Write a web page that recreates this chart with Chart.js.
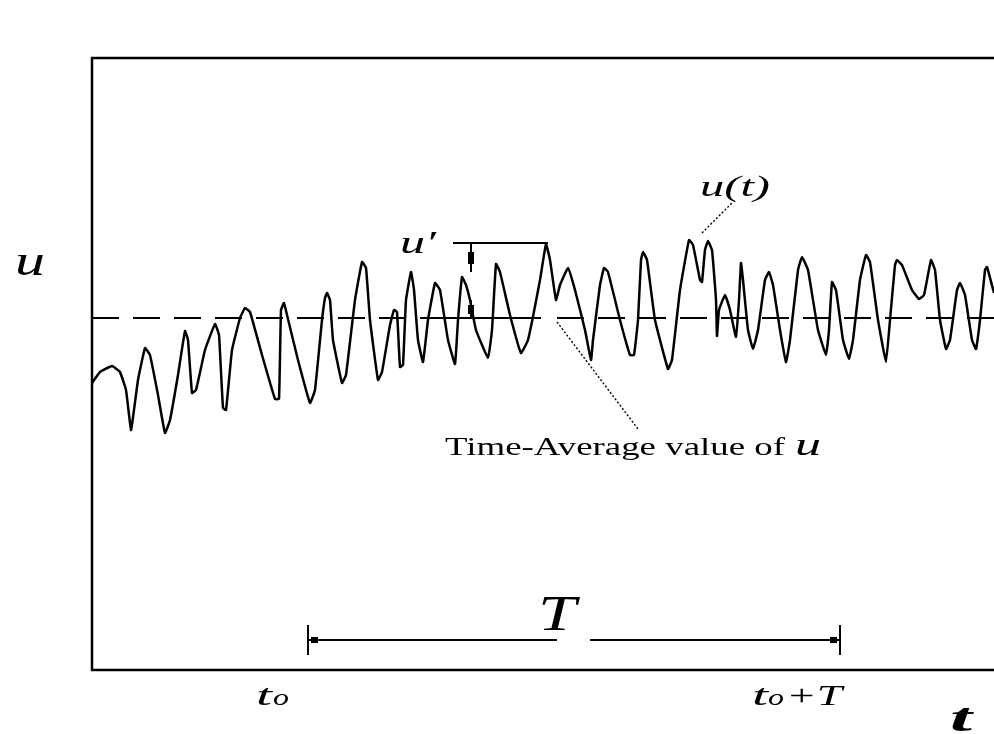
<!DOCTYPE html>
<html>
<head>
<meta charset="utf-8">
<script src="https://cdn.jsdelivr.net/npm/chart.js@4/dist/chart.umd.min.js"></script>
<style>
  html, body { margin: 0; padding: 0; background: #fff; overflow: hidden; }
  #wrap { width: 994px; height: 734px; }
</style>
</head>
<body>
<div id="wrap"><canvas id="chartContainer" width="994" height="734"></canvas></div>
<script>
// time axis (arbitrary units) and velocity deviation from the time average
var t = [0, 8, 20, 28, 34, 39, 42, 46, 53, 58,
    66, 73, 78, 86, 93, 96, 100, 104, 113, 123,
    127, 131, 134, 140, 148, 153, 158, 170, 183, 187,
    189, 192, 195, 206, 218, 223, 230, 233, 235, 238,
    241, 250, 254, 263, 270, 274, 278, 286, 290, 298,
    302, 305, 308, 311, 314, 319, 322, 326, 331, 336,
    343, 348, 356, 363, 366, 370, 374, 378, 384, 396,
    400, 404, 408, 418, 429, 436, 448, 454, 458, 464,
    468, 476, 483, 493, 499, 501, 508, 512, 516, 528,
    538, 542, 546, 549, 551, 555, 563, 576, 580, 588,
    597, 601, 608, 610, 613, 616, 620, 624, 625, 627,
    633, 638, 644, 647, 649, 651, 656, 661, 666, 673,
    677, 681, 688, 694, 698, 706, 710, 716, 726, 734,
    737, 740, 744, 751, 757, 761, 768, 774, 778, 786,
    794, 798, 803, 805, 810, 820, 827, 832, 839, 843,
    848, 854, 858, 865, 868, 873, 880, 884, 888, 893,
    895, 902];
var u = [-65, -54, -48, -54, -72, -112, -92, -62, -30, -37,
    -77, -115, -102, -57, -13, -22, -75, -72, -32, -6,
    -17, -90, -92, -32, 0, 10, 6, -37, -81, -81,
    8, 15, 3, -42, -85, -72, -2, 20, 25, 18,
    -22, -65, -57, 18, 56, 50, -2, -62, -54, -7,
    8, 6, -49, -47, 18, 46, 28, -22, -44, -2,
    35, 28, -22, -46, -2, 41, 33, 18, -12, -40,
    -12, 54, 46, 3, -35, -22, 38, 74, 58, 18,
    33, 50, 28, -12, -42, -22, 33, 50, 46, -2,
    -37, -37, -2, 58, 66, 58, -2, -51, -42, 28,
    78, 73, 38, 36, 68, 77, 68, 18, -18, 8,
    23, 8, -19, 18, 55, 38, -12, -31, -12, 38,
    46, 33, -12, -44, -22, 48, 61, 48, -12, -37,
    -12, 36, 28, -22, -41, -22, 38, 63, 56, -2,
    -44, -2, 53, 58, 53, 28, 19, 23, 58, 48,
    -2, -31, -22, 28, 35, 23, -22, -31, -2, 48,
    51, 25];

// time-average line, drawn dashed / solid / dashed as in the sketch
var meanDashA = [0, 336];
var meanSolid = [336, 449];
var meanDashB = [465, 902];

var t0 = 216, t0T = 748;     // averaging window
var uPeak = 75, tPeakFrom = 361, tPeakTo = 456, tPrime = 379;

var serif = '"Liberation Serif", "DejaVu Serif", serif';

function pts(xs, ys) {
    var out = [];
    for (var i = 0; i < xs.length; i++) out.push({ x: xs[i], y: ys[i] });
    return out;
}
function seg(r) { return [{ x: r[0], y: 0 }, { x: r[1], y: 0 }]; }

function fitText(ctx, text, x, y, w, font) {
    ctx.font = font;
    var m = ctx.measureText(text).width;
    ctx.save();
    ctx.translate(x, y);
    ctx.scale(w / m, 1);
    ctx.fillText(text, 0, 0);
    ctx.restore();
}

var sketch = {
    id: 'sketch',
    afterDraw: function (chart) {
        var ctx = chart.ctx, a = chart.chartArea;
        var xs = chart.scales.x, ys = chart.scales.y;
        var X = function (v) { return xs.getPixelForValue(v); };
        var Y = function (v) { return ys.getPixelForValue(v); };
        ctx.save();
        ctx.strokeStyle = '#000';
        ctx.fillStyle = '#000';
        ctx.textBaseline = 'alphabetic';

        // frame (right side runs off the page)
        ctx.lineWidth = 2.5;
        ctx.beginPath();
        ctx.moveTo(a.right + 2, a.top);
        ctx.lineTo(a.left, a.top);
        ctx.lineTo(a.left, a.bottom);
        ctx.lineTo(a.right + 2, a.bottom);
        ctx.stroke();

        // T window arrow
        var yT = Y(-322);
        ctx.lineWidth = 2;
        ctx.beginPath();
        ctx.moveTo(X(t0), yT); ctx.lineTo(X(465), yT);
        ctx.moveTo(X(498), yT); ctx.lineTo(X(t0T), yT);
        ctx.moveTo(X(t0), yT - 15); ctx.lineTo(X(t0), yT + 15);
        ctx.moveTo(X(t0T), yT - 15); ctx.lineTo(X(t0T), yT + 15);
        ctx.stroke();
        ctx.fillRect(X(t0) + 3, yT - 3, 7, 6);
        ctx.fillRect(X(t0T) - 10, yT - 3, 7, 6);

        // u' bracket
        var yP = Y(uPeak);
        ctx.lineWidth = 2;
        ctx.beginPath();
        ctx.moveTo(X(tPeakFrom), yP); ctx.lineTo(X(tPeakTo), yP);
        ctx.moveTo(X(tPrime), yP); ctx.lineTo(X(tPrime), yP + 29);
        ctx.moveTo(X(tPrime), Y(0) - 18); ctx.lineTo(X(tPrime), Y(0));
        ctx.stroke();
        ctx.fillRect(X(tPrime) - 3, yP + 9, 6, 12);
        ctx.fillRect(X(tPrime) - 3, Y(0) - 13, 6, 9);

        // leader lines
        ctx.lineWidth = 1.4;
        ctx.setLineDash([2, 2]);
        ctx.beginPath();
        ctx.moveTo(X(465), Y(-4)); ctx.lineTo(X(546), Y(-111));
        ctx.moveTo(X(610), Y(85)); ctx.lineTo(X(640), Y(115));
        ctx.stroke();
        ctx.setLineDash([]);

        // labels
        fitText(ctx, 'u', 15, 275, 30, 'italic 44px ' + serif);
        fitText(ctx, 'u\u2032', X(308), Y(65), 36, 'italic 32px ' + serif);
        fitText(ctx, 'u(t)', X(608), Y(122), 70, 'italic 30px ' + serif);
        fitText(ctx, 'Time-Average value of', X(353), Y(-137), 340, '26px ' + serif);
        fitText(ctx, 'u', X(703), Y(-137), 26, 'italic 32px ' + serif);
        fitText(ctx, 'T', X(446), yT - 10, 38, 'italic 50px ' + serif);
        fitText(ctx, 't', 256, 705, 16, 'italic 30px ' + serif);
        fitText(ctx, 'o', 273, 705, 16, 'italic 24px ' + serif);
        fitText(ctx, 't', 752, 705, 16, 'italic 30px ' + serif);
        fitText(ctx, 'o', 768, 705, 16, 'italic 24px ' + serif);
        fitText(ctx, '+T', 786, 705, 56, 'italic 30px ' + serif);
        fitText(ctx, 't', 950, 731, 22, 'italic bold 40px ' + serif);
        ctx.restore();
    }
};

var chart = new Chart(document.getElementById('chartContainer'), {
    type: 'line',
    data: {
        datasets: [{
            label: 'u(t)',
            data: pts(t, u),
            borderColor: '#000',
            borderWidth: 2.5,
            pointRadius: 0,
            tension: 0.1
        }, {
            label: 'mean',
            data: seg(meanDashA),
            borderColor: '#000',
            borderWidth: 2,
            borderDash: [27, 14],
            pointRadius: 0
        }, {
            label: 'mean2',
            data: seg(meanSolid),
            borderColor: '#000',
            borderWidth: 2,
            pointRadius: 0
        }, {
            label: 'mean3',
            data: seg(meanDashB),
            borderColor: '#000',
            borderWidth: 2,
            borderDash: [27, 14],
            pointRadius: 0
        }]
    },
    options: {
        responsive: false,
        animation: false,
        layout: { padding: { left: 92, top: 58, right: 0, bottom: 64 } },
        plugins: { legend: { display: false }, tooltip: { enabled: false } },
        scales: {
            x: { type: 'linear', min: 0, max: 902, display: false },
            y: { type: 'linear', min: -352, max: 260, display: false }
        }
    },
    plugins: [sketch]
});
</script>
</body>
</html>
